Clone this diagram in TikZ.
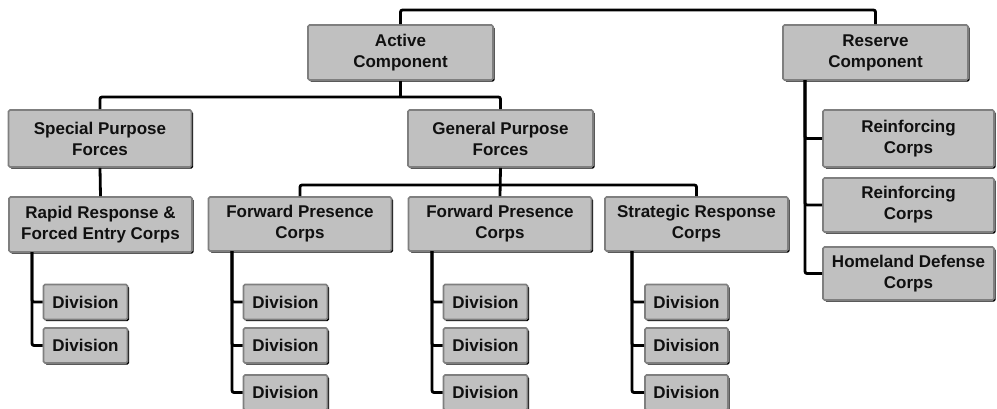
\documentclass[tikz,border=0pt]{standalone}
\usepackage{fontspec}
\setmainfont{Liberation Sans}
\usetikzlibrary{shadows}
\definecolor{boxfill}{HTML}{C0C0C0}
\definecolor{boxline}{HTML}{7F7F7F}
\definecolor{inkblack}{HTML}{101010}
\tikzset{
  orgbox/.style={draw=boxline, line width=1.6pt, fill=boxfill, rounded corners=1.5pt,
    drop shadow={shadow xshift=1.6pt, shadow yshift=-1.6pt, fill=black, opacity=1},
    align=center, inner sep=0pt, text=inkblack,
    font=\fontsize{17}{21}\selectfont\bfseries},
  unitbox/.style={orgbox, minimum width=183pt, minimum height=55pt},
  divbox/.style={orgbox, minimum width=84pt, minimum height=35pt},
  corpsbox/.style={orgbox, minimum width=171pt},
  link/.style={draw=black, line width=2.8pt, rounded corners=2pt}
}
\begin{document}
\begin{tikzpicture}[x=1pt, y=-1pt]
  \useasboundingbox (0,0) rectangle (997,408);

  % top level
  \node[unitbox, minimum width=185pt] (act) at (400.5,52.5) {Active\\Component};
  \node[unitbox, minimum width=185pt] (res) at (875.5,52.5) {Reserve\\Component};

  % force groups
  \node[unitbox, minimum height=57pt] (spf) at (100,138.5) {Special Purpose\\Forces};
  \node[unitbox, minimum width=185pt, minimum height=57pt] (gpf) at (500.5,138.5) {General Purpose\\Forces};

  % corps
  \node[unitbox] (rap) at (100.5,224.5) {Rapid Response \&\\Forced Entry Corps};
  \node[unitbox, minimum height=54pt] (fpa) at (300,224) {Forward Presence\\Corps};
  \node[unitbox, minimum height=54pt] (fpb) at (500,224) {Forward Presence\\Corps};
  \node[unitbox, minimum height=54pt] (src) at (696.5,224) {Strategic Response\\Corps};

  % reserve corps
  \node[corpsbox, minimum height=57pt] (rca) at (908.5,138.5) {Reinforcing\\Corps};
  \node[corpsbox, minimum height=54pt] (rcb) at (908.5,205) {Reinforcing\\Corps};
  \node[corpsbox, minimum height=53pt] (hdc) at (908.5,273.5) {Homeland Defense\\Corps};

  % divisions
  \node[divbox] (ra1) at (85.5,302) {Division};
  \node[divbox] (ra2) at (85.5,345.5) {Division};
  \node[divbox] (fa1) at (285.5,302) {Division};
  \node[divbox] (fa2) at (285.5,345.5) {Division};
  \node[divbox] (fa3) at (285.5,392.5) {Division};
  \node[divbox] (fb1) at (485.5,302) {Division};
  \node[divbox] (fb2) at (485.5,345.5) {Division};
  \node[divbox] (fb3) at (485.5,392.5) {Division};
  \node[divbox, minimum width=83pt] (sr1) at (686.5,302) {Division};
  \node[divbox, minimum width=83pt] (sr2) at (686.5,345.5) {Division};
  \node[divbox, minimum width=83pt] (sr3) at (686.5,392.5) {Division};

  % bus points and trunk tops
  \coordinate (topbus) at (400.5,10);
  \coordinate (busa) at (400.5,97);
  \coordinate (busb) at (500,185);
  \coordinate (tra) at (32,252);
  \coordinate (tfa) at (232,251);
  \coordinate (tfb) at (432,251);
  \coordinate (tsr) at (632,251);
  \coordinate (tres) at (805,80);

  % connectors
  \draw[link] (act.north) -- (topbus) -| (res.north);
  \draw[link] (act.south) -- (busa);
  \draw[link] (spf.north) |- (busa) -| (gpf.north);
  \draw[link] (spf.south) -- (rap.north);
  \draw[link] (gpf.south) -- (fpb.north);
  \draw[link] (fpa.north) |- (busb) -| (src.north);

  \draw[link] (tra) |- (ra1.west);
  \draw[link] (tra) |- (ra2.west);
  \draw[link] (tfa) |- (fa1.west);
  \draw[link] (tfa) |- (fa2.west);
  \draw[link] (tfa) |- (fa3.west);
  \draw[link] (tfb) |- (fb1.west);
  \draw[link] (tfb) |- (fb2.west);
  \draw[link] (tfb) |- (fb3.west);
  \draw[link] (tsr) |- (sr1.west);
  \draw[link] (tsr) |- (sr2.west);
  \draw[link] (tsr) |- (sr3.west);
  \draw[link] (tres) |- (rca.west);
  \draw[link] (tres) |- (rcb.west);
  \draw[link] (tres) |- (hdc.west);
\end{tikzpicture}
\end{document}
